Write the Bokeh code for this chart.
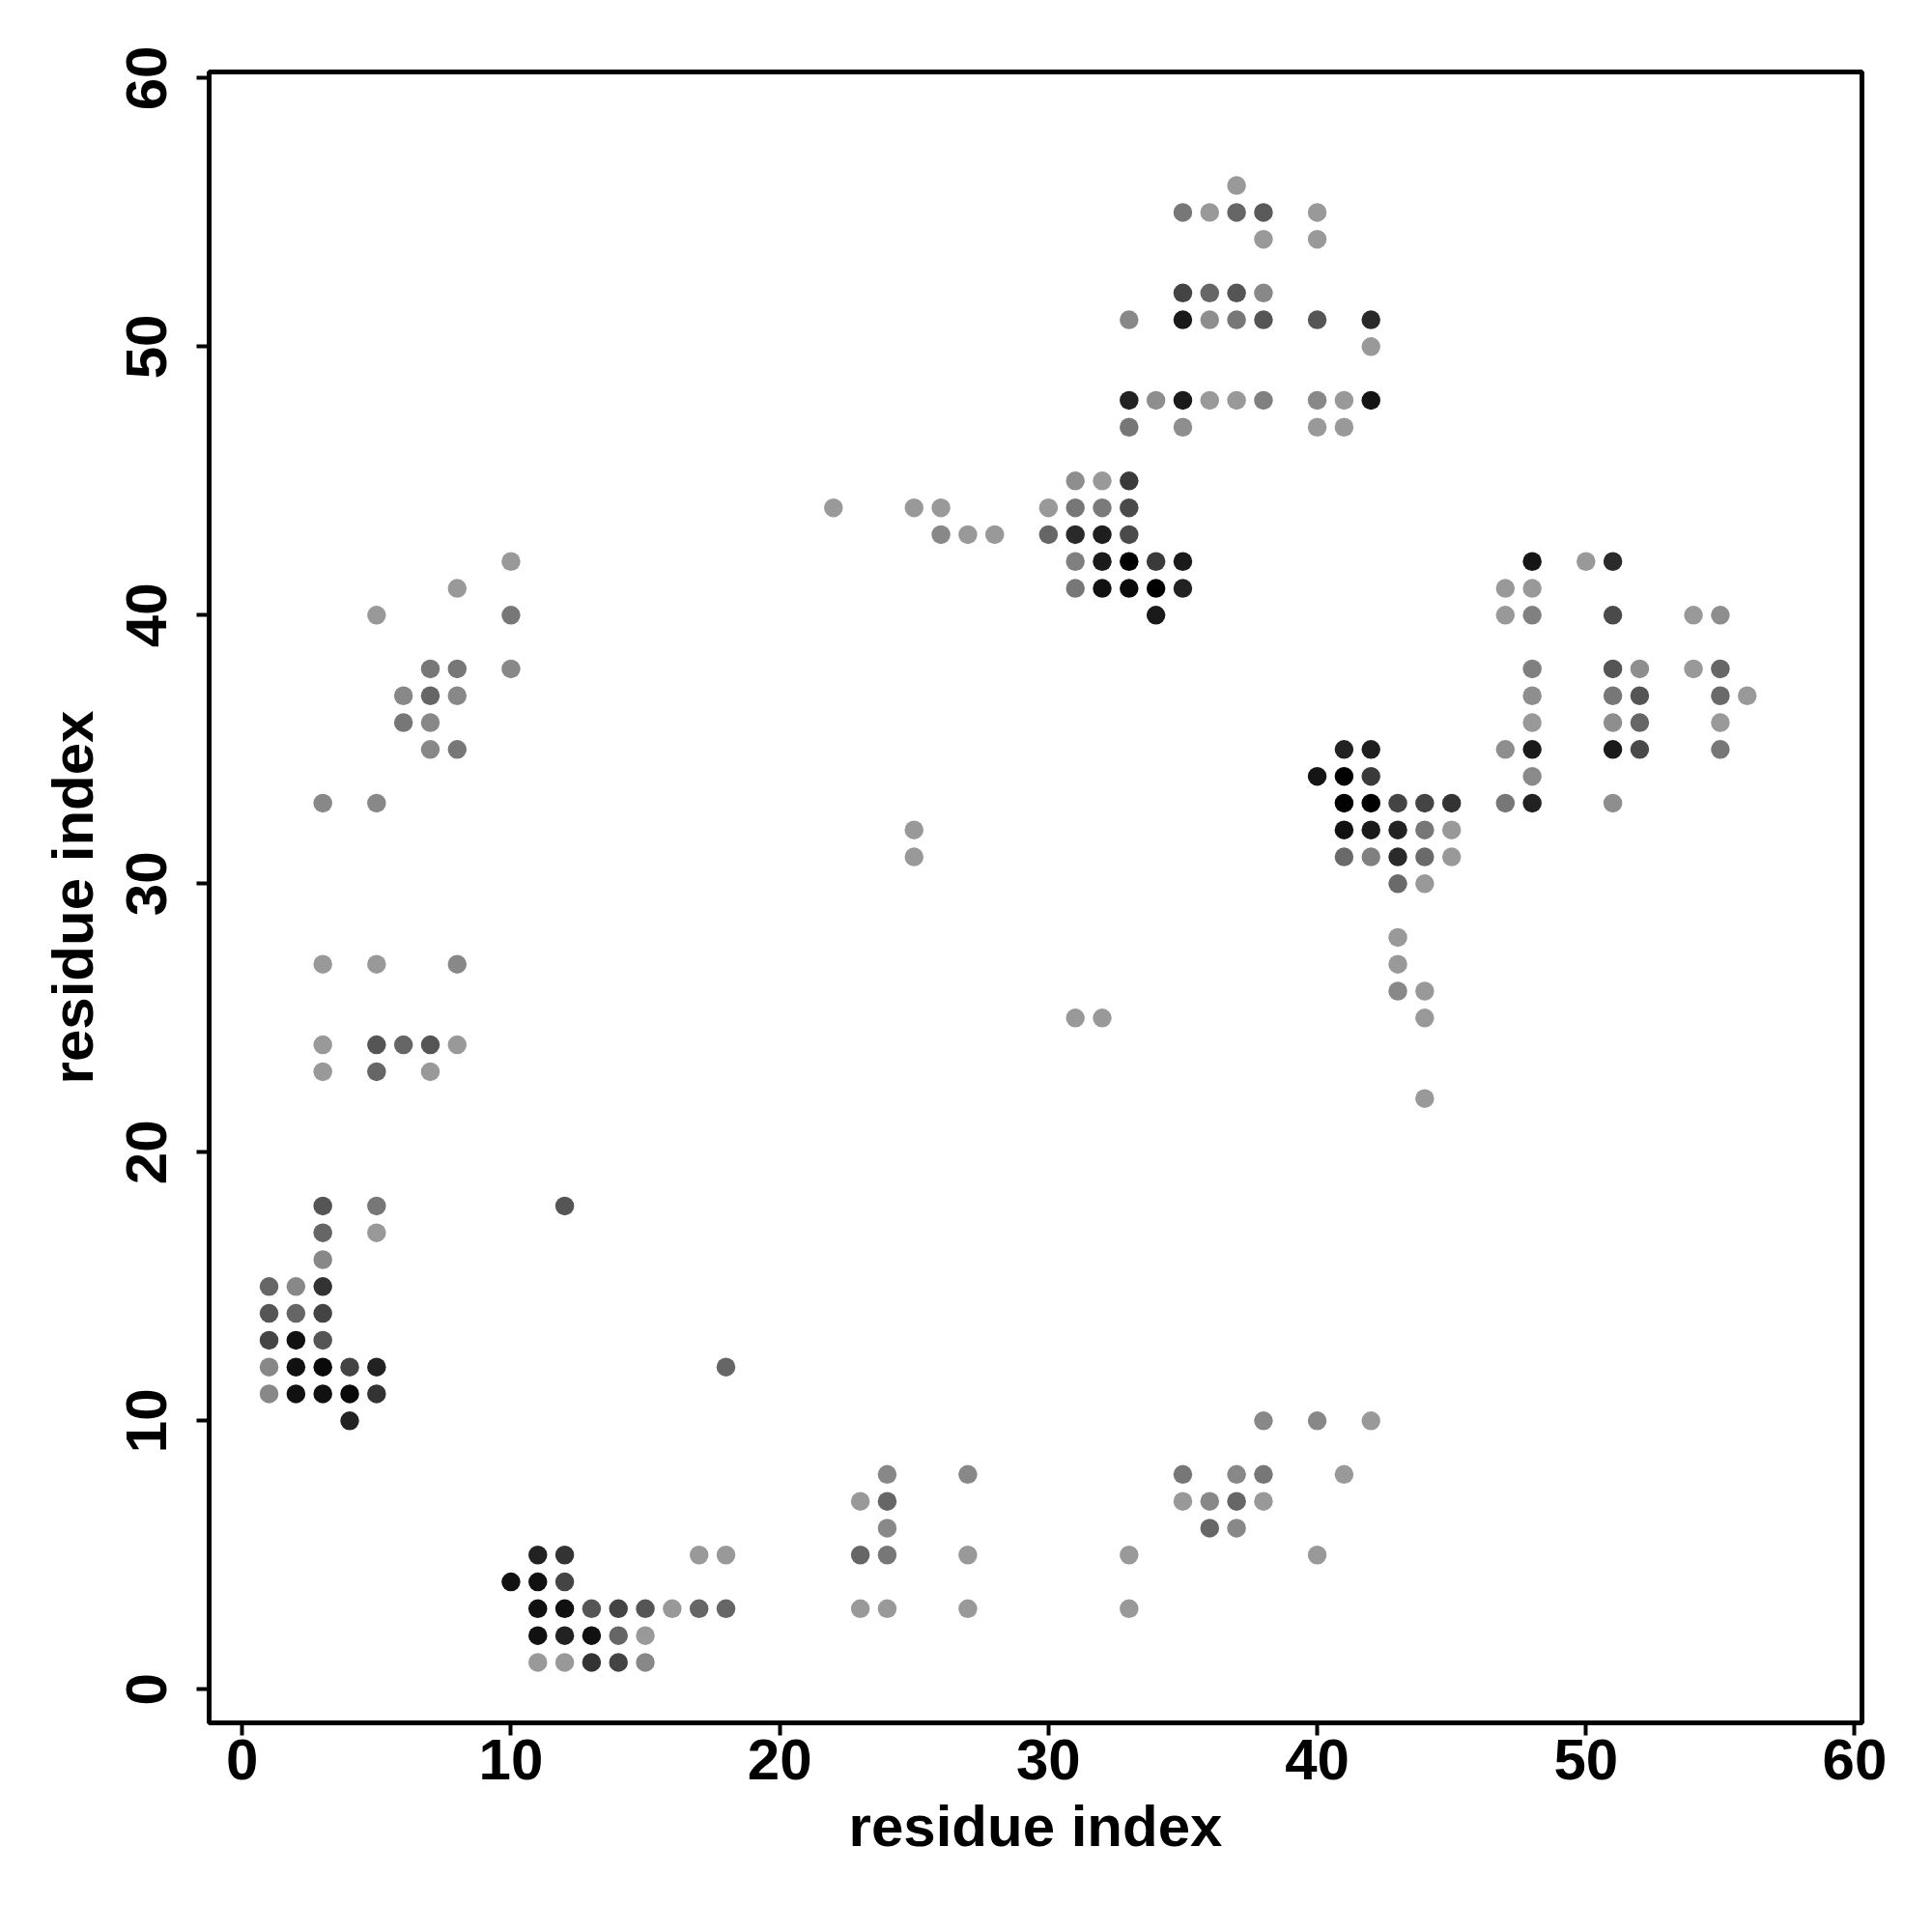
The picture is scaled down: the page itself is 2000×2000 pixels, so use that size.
from bokeh.plotting import figure
from bokeh.models import Range1d, FixedTicker
from bokeh.embed import file_html
from bokeh.resources import INLINE

# contact points: residue i (xs), residue j (ys), grey level (0=black ... 0x99 = lightest)
xs = [1, 2, 3, 1, 2, 3, 1, 2, 3, 1, 2, 3, 4, 5, 1, 2, 3, 4, 5, 4, 3, 3, 5, 3, 5,
      10, 8, 5, 10, 7, 8, 10, 6, 7, 8, 6, 7, 7, 8, 3, 5, 3, 5, 8, 3, 5, 6, 7, 8, 3, 5, 7,
      11, 12, 17, 18, 10, 11, 12, 11, 12, 13, 14, 15, 16, 17, 18, 11, 12, 13, 14, 15, 11, 12, 13, 14, 15,
      24, 27, 35, 37, 38, 41, 38, 40, 42, 23, 24, 35, 36, 37, 38, 24, 36, 37, 23, 24, 27, 33, 40, 23, 24, 27, 33,
      22, 25, 26, 26, 27, 28, 25, 25, 31, 32, 12, 18,
      31, 32, 33, 30, 31, 32, 33, 30, 31, 32, 33, 31, 32, 33, 34, 35, 31, 32, 33, 34, 35, 34,
      37, 35, 36, 37, 38, 40, 38, 40, 35, 36, 37, 38, 33, 35, 36, 37, 38, 40, 42, 42,
      33, 34, 35, 36, 37, 38, 40, 41, 42, 33, 35, 40, 41,
      41, 42, 40, 41, 42, 41, 42, 43, 44, 45, 41, 42, 43, 44, 45, 41, 42, 43, 44, 45, 43, 44,
      43, 43, 43, 44, 44, 44,
      48, 50, 51, 47, 48, 47, 48, 51, 54, 55, 48, 51, 52, 54, 55, 48, 51, 52, 55, 56,
      48, 51, 52, 55, 47, 48, 51, 52, 55, 48, 47, 48, 51]
ys = [15, 15, 15, 14, 14, 14, 13, 13, 13, 12, 12, 12, 12, 12, 11, 11, 11, 11, 11, 10, 16, 17, 17, 18, 18,
      42, 41, 40, 40, 38, 38, 38, 37, 37, 37, 36, 36, 35, 35, 33, 33, 27, 27, 27, 24, 24, 24, 24, 24, 23, 23, 23,
      5, 5, 5, 5, 4, 4, 4, 3, 3, 3, 3, 3, 3, 3, 3, 2, 2, 2, 2, 2, 1, 1, 1, 1, 1,
      8, 8, 8, 8, 8, 8, 10, 10, 10, 7, 7, 7, 7, 7, 7, 6, 6, 6, 5, 5, 5, 5, 5, 3, 3, 3, 3,
      44, 44, 44, 43, 43, 43, 32, 31, 25, 25, 18, 12,
      45, 45, 45, 44, 44, 44, 44, 43, 43, 43, 43, 42, 42, 42, 42, 42, 41, 41, 41, 41, 41, 40,
      56, 55, 55, 55, 55, 55, 54, 54, 52, 52, 52, 52, 51, 51, 51, 51, 51, 51, 51, 50,
      48, 48, 48, 48, 48, 48, 48, 48, 48, 47, 47, 47, 47,
      35, 35, 34, 34, 34, 33, 33, 33, 33, 33, 32, 32, 32, 32, 32, 31, 31, 31, 31, 31, 30, 30,
      28, 27, 26, 26, 25, 22,
      42, 42, 42, 41, 41, 40, 40, 40, 40, 40, 38, 38, 38, 38, 38, 37, 37, 37, 37, 37,
      36, 36, 36, 36, 35, 35, 35, 35, 35, 34, 33, 33, 33]
grey = [0x66, 0x88, 0x33, 0x55, 0x66, 0x44, 0x44, 0x11, 0x55, 0x88, 0x11, 0x0a, 0x44, 0x22, 0x88, 0x11, 0x11, 0x0a, 0x33, 0x22, 0x88, 0x66, 0x99, 0x55, 0x77,
        0x99, 0x99, 0x99, 0x77, 0x77, 0x77, 0x88, 0x88, 0x66, 0x88, 0x77, 0x88, 0x88, 0x77, 0x88, 0x88, 0x99, 0x99, 0x88, 0x99, 0x55, 0x66, 0x55, 0x99, 0x99, 0x66, 0x99,
        0x22, 0x33, 0x99, 0x99, 0x11, 0x11, 0x44, 0x11, 0x11, 0x55, 0x44, 0x55, 0x99, 0x66, 0x66, 0x11, 0x22, 0x11, 0x66, 0x99, 0x99, 0x99, 0x33, 0x44, 0x88,
        0x88, 0x88, 0x77, 0x88, 0x77, 0x99, 0x88, 0x88, 0x99, 0x99, 0x66, 0x99, 0x88, 0x66, 0x99, 0x88, 0x66, 0x88, 0x66, 0x77, 0x99, 0x99, 0x99, 0x99, 0x99, 0x99, 0x99,
        0x99, 0x99, 0x99, 0x88, 0x99, 0x99, 0x99, 0x99, 0x99, 0x99, 0x55, 0x66,
        0x8e, 0x99, 0x3a, 0x99, 0x77, 0x7a, 0x4a, 0x66, 0x2a, 0x1e, 0x4a, 0x80, 0x1a, 0x00, 0x3a, 0x1a, 0x77, 0x11, 0x0a, 0x00, 0x22, 0x1a,
        0x99, 0x77, 0x99, 0x66, 0x5a, 0x99, 0x99, 0x99, 0x44, 0x66, 0x55, 0x88, 0x88, 0x1a, 0x8e, 0x77, 0x55, 0x55, 0x2a, 0x99,
        0x22, 0x8e, 0x1a, 0x99, 0x99, 0x80, 0x88, 0x99, 0x14, 0x77, 0x8e, 0x99, 0x99,
        0x22, 0x1e, 0x15, 0x00, 0x3a, 0x00, 0x00, 0x44, 0x44, 0x33, 0x11, 0x1a, 0x22, 0x77, 0x99, 0x6a, 0x80, 0x2a, 0x6a, 0x99, 0x6a, 0x99,
        0x99, 0x99, 0x88, 0x99, 0x99, 0x99,
        0x15, 0x99, 0x2a, 0x99, 0x99, 0x99, 0x80, 0x4a, 0x99, 0x8e, 0x80, 0x55, 0x8e, 0x99, 0x66, 0x8e, 0x77, 0x55, 0x6a, 0x99,
        0x99, 0x8e, 0x66, 0x99, 0x8e, 0x1a, 0x1a, 0x4a, 0x77, 0x8a, 0x77, 0x22, 0x8e]
ticks = [0, 10, 20, 30, 40, 50, 60]

colors = ["#%02x%02x%02x" % (g, g, g) for g in grey]

FONT = "Liberation Sans"

p = figure(width=1984, height=1984, output_backend="svg", toolbar_location=None,
           x_range=Range1d(-1.23, 60.27), y_range=Range1d(-1.25, 60.23),
           min_border_left=216, min_border_right=55, min_border_top=74, min_border_bottom=201,
           background_fill_color="white", border_fill_color="white")
p.frame_width = 1711
p.frame_height = 1709
p.grid.visible = False
p.outline_line_color = "black"
p.outline_line_width = 5

p.scatter(xs, ys, size=19.5, fill_color=colors, line_color=None, marker="circle")

for ax in (p.xaxis[0], p.yaxis[0]):
    ax.ticker = FixedTicker(ticks=ticks)
    ax.axis_label = "residue index"
    ax.axis_label_text_font = FONT
    ax.axis_label_text_font_style = "bold"
    ax.axis_label_text_font_size = "60px"
    ax.axis_label_text_color = "black"
    ax.major_label_text_font = FONT
    ax.major_label_text_font_style = "bold"
    ax.major_label_text_font_size = "60px"
    ax.major_label_text_color = "black"
    ax.axis_line_color = "black"
    ax.axis_line_width = 5
    ax.major_tick_line_width = 4
    ax.major_tick_line_color = "black"
    ax.major_tick_out = 13
    ax.major_tick_in = 0
    ax.minor_tick_line_color = None

p.xaxis[0].major_label_standoff = 4
p.xaxis[0].axis_label_standoff = 12
p.yaxis[0].major_label_orientation = "vertical"
p.yaxis[0].major_label_standoff = 31
p.yaxis[0].axis_label_standoff = 20

open("out.html", "w").write(file_html(p, INLINE))
